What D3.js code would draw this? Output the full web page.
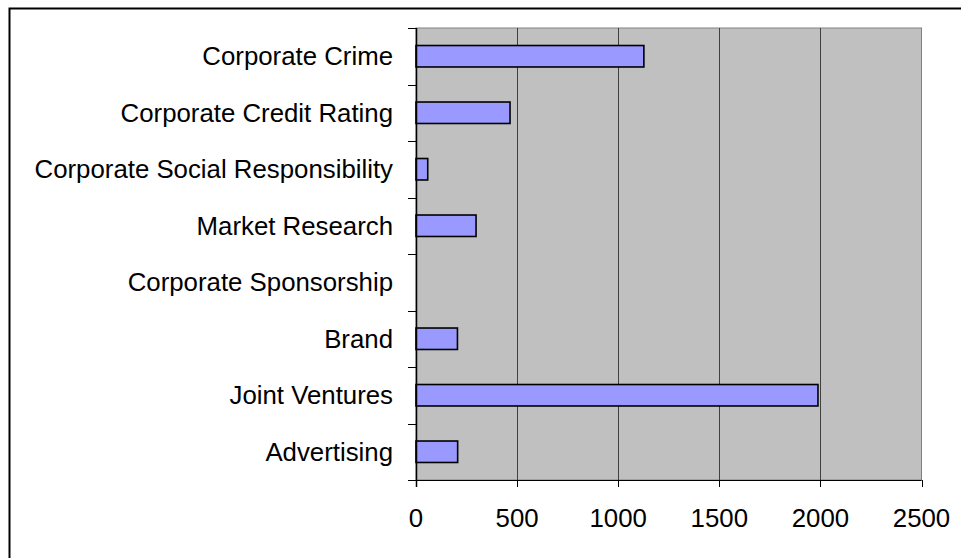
<!DOCTYPE html>
<html><head><meta charset="utf-8">
<script src="https://cdn.jsdelivr.net/npm/d3@7"></script>
<style>body{margin:0;background:#fff}svg{display:block}</style>
</head><body>
<script>
const categories = ["Corporate Crime","Corporate Credit Rating","Corporate Social Responsibility","Market Research","Corporate Sponsorship","Brand","Joint Ventures","Advertising"];
const values = [1127, 465, 58, 297, 0, 205, 1988, 206];
const xTicks = [0, 500, 1000, 1500, 2000, 2500];

const W = 961, H = 558;
const svg = d3.select("body").append("svg").attr("width", W).attr("height", H);

// outer chart border (extends past right/bottom edge)
svg.append("rect").attr("x", 9.5).attr("y", 8.5).attr("width", 1000).attr("height", 600)
  .attr("fill", "#fff").attr("stroke", "#000").attr("stroke-width", 2);

const L = 416, R = 921.5, T = 28, B = 480;
const x = d3.scaleLinear().domain([0, 2500]).range([L, R]);
const y = d3.scaleBand().domain(categories).range([T, B]).paddingInner(0).paddingOuter(0);

svg.append("rect").attr("x", L).attr("y", T).attr("width", R - L).attr("height", B - T)
  .attr("fill", "#c0c0c0").attr("stroke", "#808080").attr("stroke-width", 1);

svg.append("g").selectAll("line").data(xTicks.slice(1, -1)).join("line")
  .attr("x1", d => Math.round(x(d)) + 0.5).attr("x2", d => Math.round(x(d)) + 0.5)
  .attr("y1", T).attr("y2", B).attr("stroke", "#404040").attr("stroke-width", 1);

const bh = y.bandwidth() * 0.38;
svg.append("g").selectAll("rect").data(categories.map((c, i) => ({c, v: values[i]})).filter(d => d.v > 0)).join("rect")
  .attr("x", x(0)).attr("y", d => y(d.c) + y.bandwidth() / 2 - bh / 2)
  .attr("width", d => x(d.v) - x(0)).attr("height", bh)
  .attr("fill", "#9999ff").attr("stroke", "#000").attr("stroke-width", 1.6);

const font = "Liberation Sans, Arial, sans-serif", fs = 25.8;

// y axis
const yAxisG = svg.append("g");
yAxisG.append("line").attr("x1", L + 0.5).attr("x2", L + 0.5).attr("y1", T).attr("y2", B + 7).attr("stroke", "#000").attr("stroke-width", 1.5);
const bounds = categories.map(c => y(c)).concat([B]);
yAxisG.selectAll("line.tk").data(bounds).join("line").attr("class", "tk")
  .attr("x1", L - 8).attr("x2", L).attr("y1", d => Math.round(d) + 0.5).attr("y2", d => Math.round(d) + 0.5)
  .attr("stroke", "#000").attr("stroke-width", 1);
yAxisG.selectAll("text").data(categories).join("text")
  .attr("x", 393).attr("y", d => y(d) + y.bandwidth() / 2)
  .attr("dy", "0.35em").attr("text-anchor", "end")
  .attr("font-family", font).attr("font-size", fs)
  .text(d => d);

// x axis
const xAxisG = svg.append("g");
xAxisG.append("line").attr("x1", L).attr("x2", R).attr("y1", B + 0.5).attr("y2", B + 0.5).attr("stroke", "#000").attr("stroke-width", 1);
xAxisG.selectAll("line.tk").data(xTicks).join("line").attr("class", "tk")
  .attr("x1", d => Math.round(x(d)) + 0.5).attr("x2", d => Math.round(x(d)) + 0.5)
  .attr("y1", B).attr("y2", B + 7).attr("stroke", "#000").attr("stroke-width", 1);
xAxisG.selectAll("text").data(xTicks).join("text")
  .attr("x", d => x(d)).attr("y", 527)
  .attr("text-anchor", "middle")
  .attr("font-family", font).attr("font-size", fs)
  .text(d => d);
</script>
</body></html>
